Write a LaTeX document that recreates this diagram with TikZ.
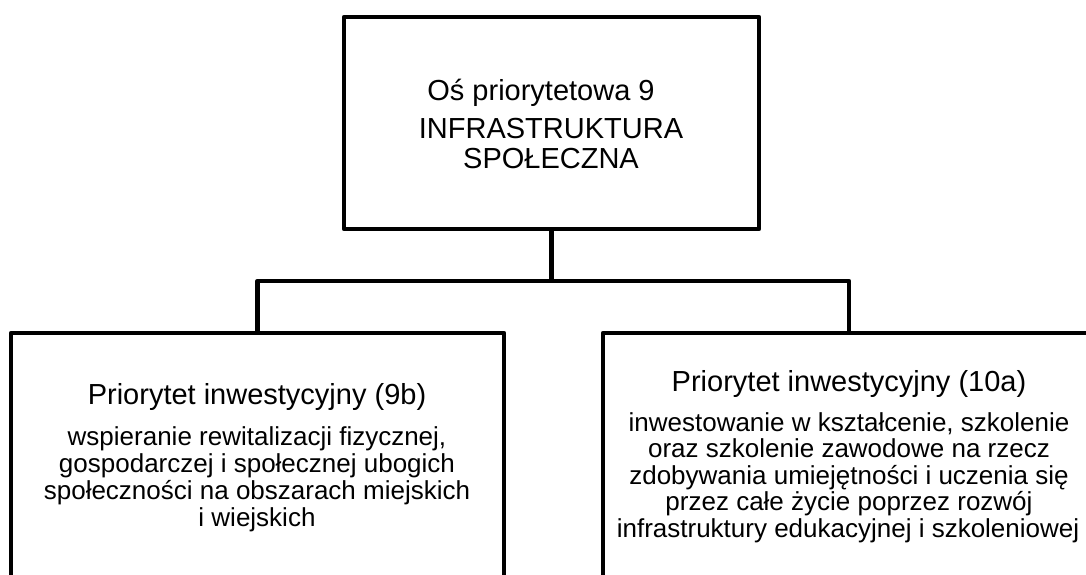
\documentclass[tikz,border=0pt]{standalone}
\usepackage{fontspec}
\setmainfont{Liberation Sans}
\begin{document}
\begin{tikzpicture}[x=1pt,y=-1pt,
  box/.style={draw,line width=4.5pt,line join=round,inner sep=0pt},
  link/.style={line width=4.5pt,line join=round},
  head/.style={anchor=base,inner sep=0pt,font=\fontsize{29}{30}\selectfont},
  body/.style={anchor=base,inner sep=0pt,font=\fontsize{26}{27}\selectfont}]
\useasboundingbox (0,0) rectangle (1086,574);
\begin{scope}
\clip (0,0) rectangle (1086,574);
% top box: priority axis
\node[box,minimum width=415pt,minimum height=212pt] (axis) at (551.5,123) {};
% lower boxes run past the bottom edge
\node[box,minimum width=493pt,minimum height=320pt] (p9b) at (257.5,493) {};
\node[box,minimum width=492pt,minimum height=320pt] (p10a) at (849,493) {};
% connectors
\coordinate (bus) at (axis.south |- 0,281);
\draw[link] (axis.south) -- (bus);
\draw[link] (p9b.north) |- (bus) -| (p10a.north);
\end{scope}
% texts of the top box
\node[head] (a1) at (541,100) {Oś priorytetowa 9};
\node[head] (a2) at (551,138) {INFRASTRUKTURA};
\node[head] (a3) at (551,168) {SPOŁECZNA};
% texts of the left box
\node[head] (l0) at (257,404) {Priorytet inwestycyjny (9b)};
\node[body] (l1) at (257,445) {wspieranie rewitalizacji fizycznej,};
\node[body] (l2) at (257,472) {gospodarczej i społecznej ubogich};
\node[body] (l3) at (257,499) {społeczności na obszarach miejskich};
\node[body] (l4) at (257,526) {i wiejskich};
% texts of the right box
\node[head] (r0) at (849,391) {Priorytet inwestycyjny (10a)};
\node[body] (r1) at (849,431) {inwestowanie w kształcenie, szkolenie};
\node[body] (r2) at (849,457.5) {oraz szkolenie zawodowe na rzecz};
\node[body] (r3) at (849,484) {zdobywania umiejętności i uczenia się};
\node[body] (r4) at (849,510.5) {przez całe życie poprzez rozwój};
\node[body] (r5) at (848,537) {infrastruktury edukacyjnej i szkoleniowej};
\end{tikzpicture}
\end{document}
